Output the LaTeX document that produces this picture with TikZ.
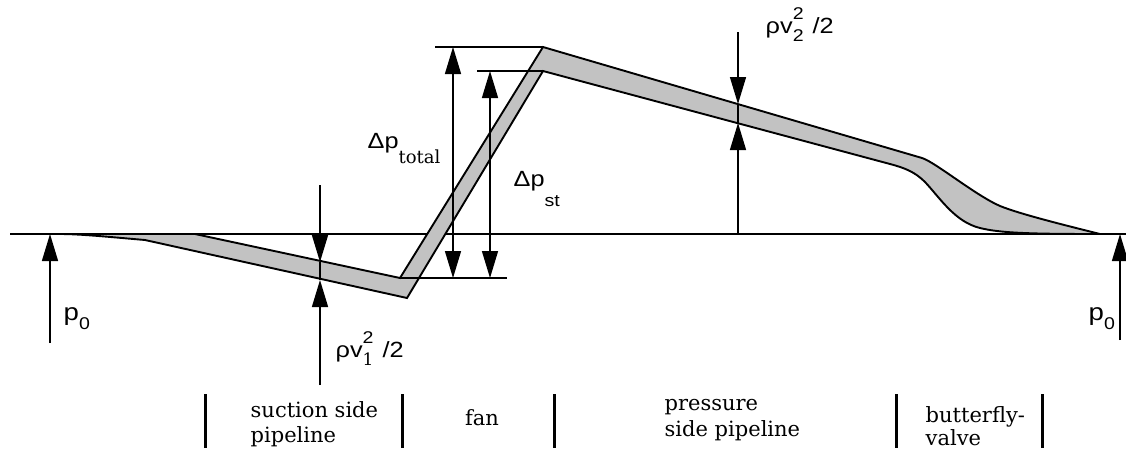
\documentclass[tikz,border=0pt]{standalone}
\usepackage{fontspec}
\usetikzlibrary{arrows.meta}
\newfontfamily\labf[FakeStretch=1.15]{Liberation Sans}
\newfontfamily\serf{DejaVu Serif}
\newcommand\lblfont{\labf\fontsize{22}{25}\selectfont}
\newcommand\bigfont{\labf\fontsize{24}{27}\selectfont}
\newcommand\smlfont{\fontsize{17}{19}\selectfont}
\newcommand\capfont{\serf\fontsize{21}{25}\selectfont}
\newcommand\stk[2]{\makebox[0pt][l]{\raisebox{14pt}{\smlfont #1}}\raisebox{-8pt}{\smlfont #2}}
\begin{document}
\begin{tikzpicture}[x=1pt,y=-1pt,line width=1.4pt,
  arrtip/.style={-{Triangle[length=27pt,width=16pt]}},
  dbltip/.style={{Triangle[length=27pt,width=16pt]}-{Triangle[length=27pt,width=16pt]}},
  bandfill/.style={fill=black!24,draw=black,line width=1.9pt,line join=miter},
  barline/.style={line width=3pt},
  labtxt/.style={inner sep=0pt,anchor=base west,font=\lblfont},
  captxt/.style={inner sep=0pt,anchor=base west,font=\capfont}]
\useasboundingbox (0,0) rectangle (1126,448);
% coordinates
\coordinate (bl) at (10,234);
\coordinate (br) at (1126,234);
\coordinate (p0lb) at (50,343);  \coordinate (p0lt) at (50,234);
\coordinate (p0rb) at (1120,340); \coordinate (p0rt) at (1120,234);
\coordinate (v1a) at (320,185); \coordinate (v1b) at (320,262);
\coordinate (v1c) at (320,280); \coordinate (v1d) at (320,385);
\coordinate (v2a) at (738,32); \coordinate (v2b) at (738,104);
\coordinate (v2c) at (738,123); \coordinate (v2d) at (738,234);
\coordinate (tt) at (453,47); \coordinate (tb) at (453,278);
\coordinate (st) at (490,71); \coordinate (sb) at (490,278);
\coordinate (h1a) at (435,47); \coordinate (h1b) at (543,47);
\coordinate (h2a) at (477,71); \coordinate (h2b) at (543,71);
\coordinate (h3a) at (400,278); \coordinate (h3b) at (507,278);
% baseline
\draw (bl) -- (br);
% band
\draw[bandfill] (60,234) -- (195,234) -- (400,278) -- (543,47) -- (922,158)
  .. controls (935,162) and (975,195) .. (1000,206)
  .. controls (1020,214) and (1060,224) .. (1100,234)
  .. controls (1030,234) and (1000,233) .. (980,228)
  .. controls (955,222) and (940,198) .. (925,182)
  .. controls (915,172) and (905,168) .. (890,164)
  -- (543,71) -- (407,298) -- (145,240)
  .. controls (110,237) and (80,234) .. (60,234) -- cycle;
% horizontal reference lines at fan
\draw (h1a) -- (h1b);
\draw (h2a) -- (h2b);
\draw (h3a) -- (h3b);
% arrows
\draw[arrtip] (p0lb) -- (p0lt);
\draw[arrtip] (p0rb) -- (p0rt);
\draw[arrtip] (v1a) -- (v1b);
\draw (v1b) -- (v1c);
\draw[arrtip] (v1d) -- (v1c);
\draw[arrtip] (v2a) -- (v2b);
\draw (v2b) -- (v2c);
\draw[arrtip] (v2d) -- (v2c);
\draw[dbltip] (tt) -- (tb);
\draw[dbltip] (st) -- (sb);
% labels
\node[labtxt,font=\bigfont] (lp0l) at (63,320) {p\raisebox{-9pt}{\smlfont 0}};
\node[labtxt,font=\bigfont] (lp0r) at (1088,320) {p\raisebox{-9pt}{\smlfont 0}};
\node[labtxt] (ldpt) at (367,148) {Δp\raisebox{-15pt}{\serf\fontsize{18}{20}\selectfont total}};
\node[labtxt] (ldps) at (513,186) {Δp\raisebox{-20pt}{\smlfont st}};
\node[labtxt] (lv2) at (765,33) {ρv\stk{2}{2}\hspace{9pt}/2};
\node[labtxt] (lv1) at (335,357) {ρv\stk{2}{\serf 1}\hspace{9pt}/2};
% bottom sections
\draw[barline] (205,394) -- (205,448);
\draw[barline] (402,394) -- (402,448);
\draw[barline] (554,394) -- (554,448);
\draw[barline] (896,394) -- (896,448);
\draw[barline] (1042,394) -- (1042,448);
\node[captxt] (c1a) at (250,417) {suction side};
\node[captxt] (c1b) at (250,442) {pipeline};
\node[captxt,anchor=base] (c2) at (482,425) {fan};
\node[captxt] (c3a) at (664,410) {pressure};
\node[captxt] (c3b) at (664,436) {side pipeline};
\node[captxt] (c4a) at (925,422) {butterfly-};
\node[captxt] (c4b) at (925,445) {valve};
\end{tikzpicture}
\end{document}
